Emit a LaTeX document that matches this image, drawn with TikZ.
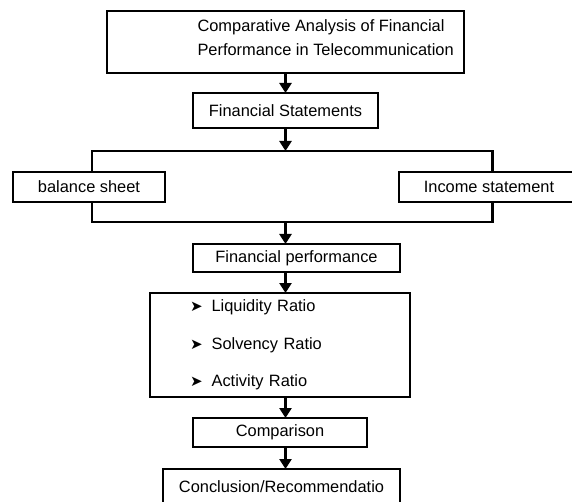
\documentclass[tikz,border=0pt]{standalone}
\usepackage{fontspec}
\setmainfont{Liberation Sans}
\newfontfamily\arrowfont{DejaVu Sans}
\usetikzlibrary{positioning, arrows.meta}

\newcommand{\ratioitem}[1]{\raisebox{-3pt}{{\arrowfont\fontsize{15}{15}\selectfont ➤}\hspace{9pt}#1}}

\begin{document}
\begin{tikzpicture}[x=1pt, y=1pt,
                    box/.style={rectangle, draw, line width=2.6pt, font=\fontsize{16.4}{20}\selectfont, inner sep=0pt, outer sep=0pt},
                    link/.style={line width=2.6pt},
                    arrow/.style={line width=2.6pt, -{Triangle[width=12pt, length=10pt]}}]

    \useasboundingbox (0,0) rectangle (572,-502);

    % Nodes
    \node[box, minimum width=357pt, minimum height=62pt] (title) at (285.5,-42) {};
    \node[right=87pt of title.west, yshift=4pt, align=left, font=\fontsize{16.4}{24}\selectfont] (titletext)
        {Comparative Analysis of Financial\\Performance in Telecommunication};

    \node[box, below=20pt of title, minimum width=185pt, minimum height=35pt] (fs) {Financial Statements};
    \coordinate[below=23pt of fs] (split);

    \node[box, below left=21pt and 120.5pt of split, minimum width=152pt, minimum height=30pt] (bs) {balance sheet};
    \node[box, below right=21pt and 113.5pt of split, minimum width=180pt, minimum height=30pt] (is) {Income statement};
    \coordinate (merge) at ([yshift=-71pt]split);

    \node[box, below=22pt of merge, xshift=11pt, minimum width=207pt, minimum height=28pt] (fp) {Financial performance};
    \node[box, below=21pt of fp, xshift=-16.5pt, minimum width=260pt, minimum height=104pt,
          text width=180pt, inner xsep=40pt, align=left, font=\fontsize{16.4}{37.5}\selectfont] (ratios)
        {\ratioitem{Liquidity Ratio}\\\ratioitem{Solvency Ratio}\\\ratioitem{Activity Ratio}};
    \node[box, below=21pt of ratios, minimum width=174pt, minimum height=29pt] (comp) {Comparison};
    \node[box, below=22pt of comp, xshift=1.5pt, minimum width=237pt, minimum height=38pt] (concl) {\raisebox{3pt}{Conclusion/Recommendatio}};

    % Paths
    \draw[arrow] (title) -- (fs);
    \draw[arrow] (fs) -- (split);
    \draw[link] ([xshift=3pt]bs.north) |- (split) -| ([xshift=3.5pt]is.north);
    \draw[link] ([xshift=3pt]bs.south) |- (merge) -| ([xshift=3.5pt]is.south);
    \draw[arrow] (merge) -- (merge |- fp.north);
    \draw[arrow] (fp.south -| merge) -- (ratios.north -| merge);
    \draw[arrow] (ratios.south -| merge) -- (comp.north -| merge);
    \draw[arrow] (comp.south -| merge) -- (concl.north -| merge);

\end{tikzpicture}
\end{document}
